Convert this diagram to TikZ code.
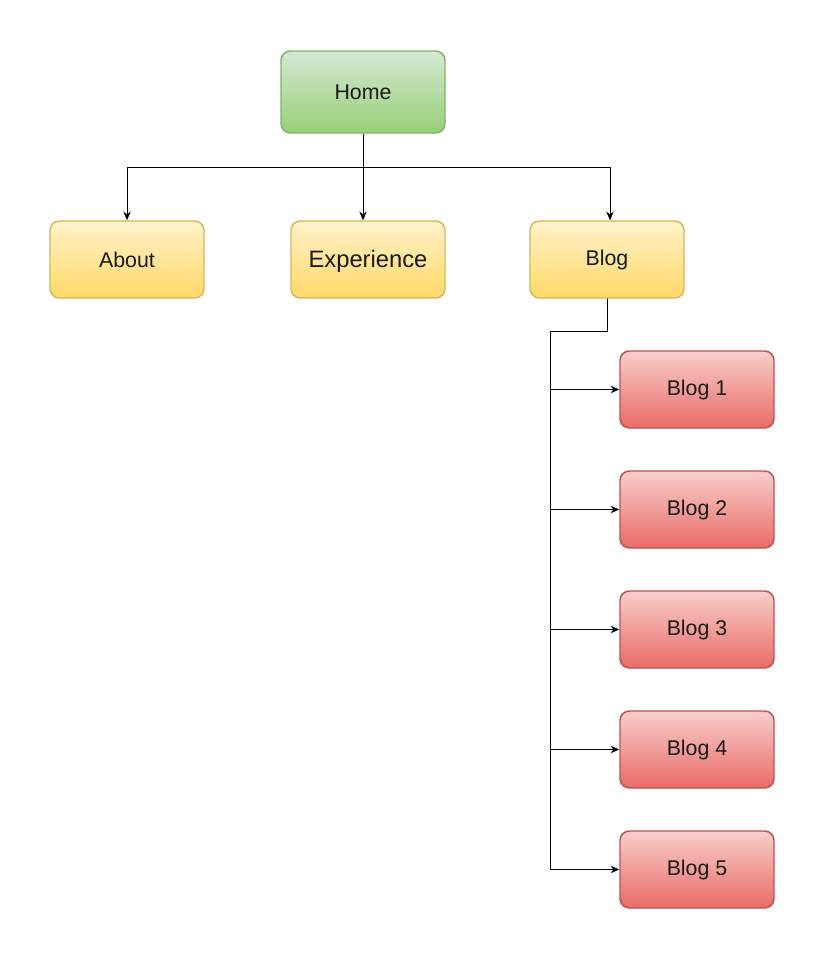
\documentclass[tikz,border=0pt]{standalone}
\usepackage{fontspec}
\setmainfont{Liberation Sans}
\usetikzlibrary{arrows.meta}
\definecolor{gtop}{HTML}{D5E8D4}\definecolor{gbot}{HTML}{97D077}\definecolor{gline}{HTML}{82B366}
\definecolor{ytop}{HTML}{FFF2CC}\definecolor{ybot}{HTML}{FFD966}\definecolor{yline}{HTML}{D6B656}
\definecolor{rtop}{HTML}{F8CECC}\definecolor{rbot}{HTML}{EA6B66}\definecolor{rline}{HTML}{B85450}
\tikzset{
  box/.style={rounded corners=7pt, line width=1.1pt, inner sep=0pt, minimum width=115.5pt, minimum height=57.75pt, font=\fontsize{16}{19}\selectfont, text=black!90},
  greenbox/.style={box, draw=gline, top color=gtop, bottom color=gbot, minimum width=123pt, minimum height=61.5pt},
  yellowbox/.style={box, draw=yline, top color=ytop, bottom color=ybot},
  redbox/.style={box, draw=rline, top color=rtop, bottom color=rbot},
  conn/.style={line width=0.75pt, black},
  arr/.style={conn, -{Stealth[length=6.5pt,width=5.5pt]}}
}
\begin{document}
\begin{tikzpicture}[x=0.75pt,y=-0.75pt]
\useasboundingbox (0,0) rectangle (827,960);
\node[greenbox] (home) at (363,92) {Home};
\node[yellowbox] (about) at (127,259.5) {About};
\node[yellowbox, font=\fontsize{17.8}{21}\selectfont, text height=12.8pt, text depth=0.5pt] (exp) at (368,259.5) {Experience};
\node[yellowbox] (blog) at (607,259.5) {Blog};
\node[redbox] (b1) at (697,389.5) {Blog 1};
\node[redbox] (b2) at (697,509.5) {Blog 2};
\node[redbox] (b3) at (697,629.5) {Blog 3};
\node[redbox] (b4) at (697,749.5) {Blog 4};
\node[redbox] (b5) at (697,869.5) {Blog 5};
\coordinate (bus) at (363,167);
\coordinate (trunk) at (550,331);
\draw[arr] (home) -- (bus) -| (about.north);
\draw[arr] (home) -- (exp.north -| home);
\draw[arr] (bus) -| ([xshift=2.25pt]blog.north);
\foreach \b in {b1,b2,b3,b4,b5}{
  \draw[arr] (blog.south) |- (trunk) |- (\b.west);
}
\end{tikzpicture}
\end{document}
